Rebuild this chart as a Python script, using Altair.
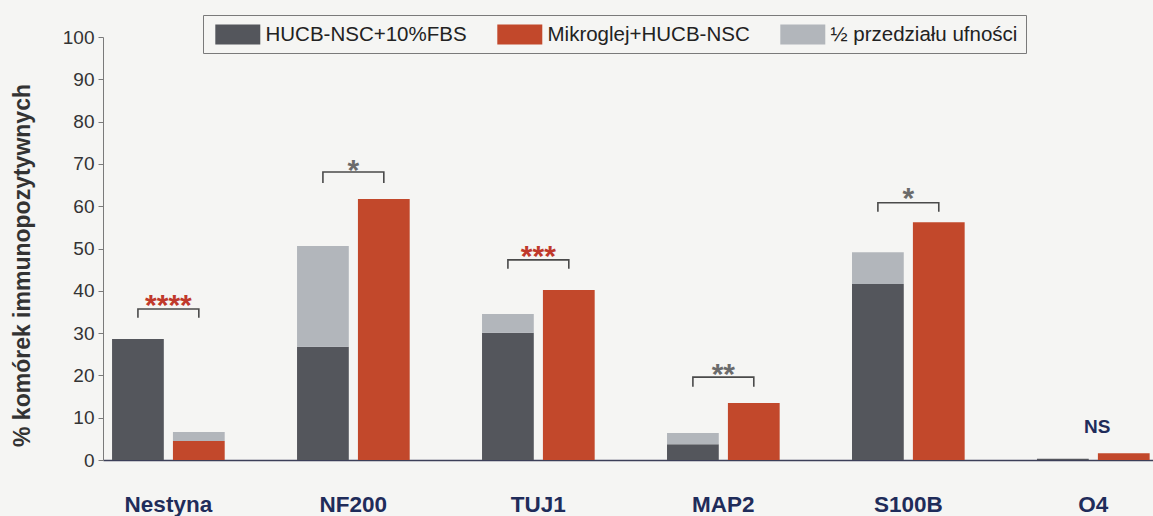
import altair as alt
import pandas as pd

# Percentage of immunopositive cells per marker, two culture conditions
categories = ["Nestyna", "NF200", "TUJ1", "MAP2", "S100B", "O4"]
fbs_mean = [28.6, 26.8, 30.1, 3.7, 41.6, 0.3]
fbs_half_ci = [0.0, 23.8, 4.4, 2.7, 7.5, 0.0]
micro_mean = [4.5, 61.7, 40.2, 13.5, 56.2, 1.6]
micro_half_ci = [2.1, 0.0, 0.0, 0.0, 0.0, 0.0]

# Significance marks: label, bracket level, bracket foot, label position
sig_labels = ["****", "*", "***", "**", "*", "NS"]
sig_colors = ["red", "gray", "red", "gray", "gray", "navy"]
bracket_level = [35.7, 68.1, 47.3, 19.6, 60.8, None]
bracket_foot = [33.6, 65.5, 45.2, 17.3, 58.7, None]
sig_y = [38.3, 70.2, 49.9, 22.0, 63.6, 7.8]

S1 = "HUCB-NSC+10%FBS"
S2 = "Mikroglej+HUCB-NSC"
S3 = "½ przedziału ufności"
series_colors = ["#54565c", "#c2482b", "#b2b6bb"]

FONT = "Liberation Sans"

bars = []
for i, c in enumerate(categories):
    bars.append(dict(cat=c, grp="a", series=S1, lo=0.0, hi=fbs_mean[i]))
    if fbs_half_ci[i] > 0:
        bars.append(dict(cat=c, grp="a", series=S3, lo=fbs_mean[i], hi=fbs_mean[i] + fbs_half_ci[i]))
    bars.append(dict(cat=c, grp="b", series=S2, lo=0.0, hi=micro_mean[i]))
    if micro_half_ci[i] > 0:
        bars.append(dict(cat=c, grp="b", series=S3, lo=micro_mean[i], hi=micro_mean[i] + micro_half_ci[i]))
bars = pd.DataFrame(bars)

brackets = []
for i, c in enumerate(categories):
    if bracket_level[i] is None:
        continue
    pts = [("a", bracket_foot[i]), ("a", bracket_level[i]),
           ("b", bracket_level[i]), ("b", bracket_foot[i])]
    for k, (g, v) in enumerate(pts):
        brackets.append(dict(cat=c, grp=g, v=v, k=k))
brackets = pd.DataFrame(brackets)

sig = pd.DataFrame(dict(cat=categories, label=sig_labels, col=sig_colors, v=sig_y))


def x_enc():
    return alt.X(
        "cat:N",
        sort=categories,
        title=None,
        scale=alt.Scale(paddingInner=0.391, paddingOuter=0.0335, align=0.73),
        axis=alt.Axis(
            labelAngle=0, ticks=False, tickSize=0, labelPadding=33,
            labelFont=FONT, labelFontSize=22.5, labelFontWeight="bold",
            labelColor="#1f2c5a", domainColor="#3c3f58", domainWidth=1.3,
            grid=False,
        ),
    )


def y_enc(field):
    return alt.Y(
        f"{field}:Q",
        title="% komórek immunopozytywnych",
        scale=alt.Scale(domain=[0, 100], nice=False, zero=True),
        axis=alt.Axis(
            values=list(range(0, 101, 10)), grid=False,
            tickSize=5, tickColor="#7a7a7a", domainColor="#7a7a7a",
            labelFont=FONT, labelFontSize=19, labelColor="#333333", labelPadding=4,
            titleFont=FONT, titleFontSize=23, titleFontWeight="bold", titleColor="#333333",
            titleX=-81, titleY=228, titleAlign="center", titleBaseline="middle",
        ),
    )


offset = alt.XOffset("grp:N", scale=alt.Scale(paddingInner=0.15, paddingOuter=0))

# Legend swatch: 45x20 box drawn off a 22.5 px nominal symbol
swatch = "M-0.64,-0.889H3.36V0.889H-0.64Z"

bar_layer = alt.Chart(bars).mark_bar(opacity=1).encode(
    x=x_enc(),
    xOffset=offset,
    y=y_enc("lo"),
    y2="hi:Q",
    color=alt.Color(
        "series:N",
        scale=alt.Scale(domain=[S1, S2, S3], range=series_colors),
        legend=alt.Legend(
            orient="none", legendX=100, legendY=-22, direction="horizontal",
            title=None, symbolType=swatch, symbolSize=506,
            symbolStrokeWidth=0, symbolOpacity=1,
            labelFont=FONT, labelFontSize=20.5, labelColor="#222222", labelOffset=31.5,
            labelLimit=400, columnPadding=26, padding=8,
            strokeColor="#7a7a7a",
        ),
    ),
)

bracket_layer = alt.Chart(brackets).mark_line(color="#4a4a4a", strokeWidth=1.6).encode(
    x=x_enc(),
    xOffset=offset,
    y=y_enc("v"),
    detail="cat:N",
    order="k:Q",
)

star_colors = {"red": "#c0392b", "gray": "#6b6b6b"}
star_layers = []
for key, colr in star_colors.items():
    star_layers.append(
        alt.Chart(sig[sig["col"] == key]).mark_text(
            font=FONT, fontSize=30, fontWeight="bold", color=colr,
            baseline="middle", dy=8,
        ).encode(x=x_enc(), y=y_enc("v"), text="label:N")
    )

ns_layer = alt.Chart(sig[sig["col"] == "navy"]).mark_text(
    font=FONT, fontSize=19, fontWeight="bold", color="#1f2c5a",
    baseline="middle", dx=4,
).encode(x=x_enc(), y=y_enc("v"), text="label:N")

chart = alt.layer(bar_layer, bracket_layer, *star_layers, ns_layer).properties(
    width=1050,
    height=423,
    autosize="none",
    padding={"left": 103, "top": 37, "right": 0, "bottom": 56},
    background="#f5f5f3",
).configure_view(stroke=None)

chart.save("out.html", embed_options={"renderer": "svg", "actions": False})
